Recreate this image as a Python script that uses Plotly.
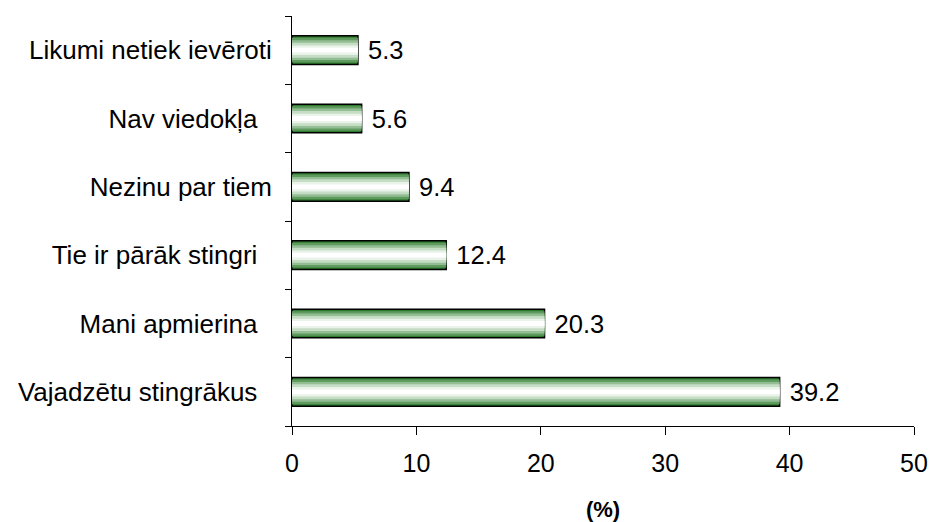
import plotly.graph_objects as go

categories = ["Vajadzētu stingrākus", "Mani apmierina", "Tie ir pārāk stingri",
              "Nezinu par tiem", "Nav viedokļa", "Likumi netiek ievēroti"]
values = [39.2, 20.3, 12.4, 9.4, 5.6, 5.3]
tick_labels = ["Vajadzētu stingrākus\u00a0\u00a0", "Mani apmierina\u00a0\u00a0",
               "Tie ir pārāk stingri\u00a0\u00a0", "Nezinu par tiem",
               "Nav viedokļa\u00a0\u00a0", "Likumi netiek ievēroti"]
x_ticks = [0, 10, 20, 30, 40, 50]

# stripe layers (outer -> inner) to imitate the horizontal green gradient
layer_widths = [0.42, 0.36, 0.29, 0.22, 0.14, 0.07]
layer_colors = ["#2f7a2f", "#5f9b5f", "#93bd93", "#c5dcc5", "#eaf3ea", "#ffffff"]

FONT = "Liberation Sans, Arial, sans-serif"

fig = go.Figure()
for i, (w, c) in enumerate(zip(layer_widths, layer_colors)):
    outer = i == 0
    fig.add_trace(go.Bar(
        y=categories, x=values, orientation="h", width=w,
        marker=dict(color=c, line=dict(color="#000000", width=1.5 if outer else 0)),
        text=[f"\u00a0{v:.1f}" for v in values] if outer else None,
        textposition="outside" if outer else None,
        textfont=dict(family=FONT, size=25.5, color="#000000"),
        cliponaxis=False, hoverinfo="skip", showlegend=False,
    ))

fig.update_layout(
    width=930, height=522,
    barmode="overlay",
    plot_bgcolor="white", paper_bgcolor="white",
    margin=dict(l=292, r=16, t=16, b=96, autoexpand=False),
    font=dict(family=FONT, size=24, color="#000000"),
    xaxis=dict(
        range=[0, 50], tickvals=x_ticks, showgrid=False, zeroline=False,
        showline=True, linecolor="#000000", linewidth=1, automargin=False,
        ticks="outside", ticklen=8, tickcolor="#000000", ticklabelstandoff=7,
        tickfont=dict(size=25),
        title=dict(text="<b>(%)</b>", font=dict(size=22), standoff=26),
    ),
    yaxis=dict(
        categoryorder="array", categoryarray=categories,
        tickmode="array", tickvals=categories, ticktext=tick_labels,
        tickson="boundaries", showgrid=False, zeroline=False, automargin=False,
        showline=True, linecolor="#000000", linewidth=1,
        ticks="outside", ticklen=6, tickcolor="#000000", ticklabelstandoff=14,
        tickfont=dict(size=26),
    ),
)

fig.write_html("out.html", config={"displayModeBar": False},
               post_script="document.body.style.margin='0';")
